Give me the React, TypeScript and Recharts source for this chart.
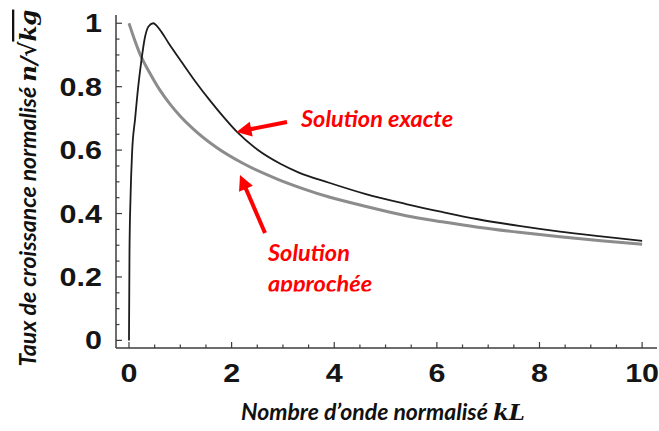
import React from 'react';
import { LineChart, Line, XAxis, YAxis } from 'recharts';

// "Solution exacte" (black curve)
const exactKL = [0, 0.01, 0.03, 0.06, 0.12, 0.18, 0.24, 0.31, 0.38, 0.47, 0.6, 0.77, 1.03, 1.3, 1.6, 1.85, 2.1, 2.5, 2.95, 3.3, 3.9, 4.6, 5.4, 6.1, 6.8, 7.6, 8.4, 9.2, 10];
const exactRate = [0, 0.28, 0.45, 0.59, 0.7, 0.8, 0.88, 0.955, 0.99, 1.0, 0.98, 0.938, 0.877, 0.815, 0.752, 0.703, 0.658, 0.602, 0.557, 0.53, 0.497, 0.462, 0.43, 0.405, 0.382, 0.361, 0.343, 0.328, 0.314];

// "Solution approchée" (grey curve)
const approxKL = [0, 0.1, 0.23, 0.4, 0.6, 0.8, 1.0, 1.25, 1.7, 2.2, 2.9, 3.4, 3.9, 4.6, 5.4, 6.1, 6.8, 7.6, 8.4, 9.2, 10];
const approxRate = [1.0, 0.952, 0.897, 0.845, 0.79, 0.745, 0.707, 0.667, 0.609, 0.56, 0.508, 0.478, 0.452, 0.423, 0.393, 0.374, 0.357, 0.341, 0.327, 0.314, 0.303];

const xTicks = [0, 0.5, 1, 1.5, 2, 2.5, 3, 3.5, 4, 4.5, 5, 5.5, 6, 6.5, 7, 7.5, 8, 8.5, 9, 9.5, 10];
const xLabels = [0, 2, 4, 6, 8, 10];
const yTicks = [0, 0.05, 0.1, 0.15, 0.2, 0.25, 0.3, 0.35, 0.4, 0.45, 0.5, 0.55, 0.6, 0.65, 0.7, 0.75, 0.8, 0.85, 0.9, 0.95, 1];
const yLabels = [0, 0.2, 0.4, 0.6, 0.8, 1];

const exactData = exactKL.map((x, i) => ({ x, y: exactRate[i] }));
const approxData = approxKL.map((x, i) => ({ x, y: approxRate[i] }));

const FRAME = '#3c3c3c';
const RED = '#ff0000';
const labelFont = '"Liberation Sans", Arial, sans-serif';
const textFont = 'Lato, "Open Sans", sans-serif';
const mathFont = '"DejaVu Serif", serif';

const isLabel = (list: number[], v: number) => list.some((l) => Math.abs(l - v) < 1e-6);

const tickText = (x: number, y: number, s: string, anchor: 'middle' | 'end') => (
  <text
    transform={`translate(${x},${y}) scale(1.22,1)`}
    textAnchor={anchor}
    fontFamily={labelFont}
    fontWeight="bold"
    fontSize={25}
    fill="#151515"
  >
    {s}
  </text>
);

function BottomTick(props: any) {
  const { x, y, payload } = props;
  const major = isLabel(xLabels, payload.value);
  return (
    <g>
      <line x1={x} y1={y} x2={x} y2={y - (major ? 6 : 3.5)} stroke={FRAME} strokeWidth={1.2} />
      {major && tickText(x, y + 34, String(payload.value), 'middle')}
    </g>
  );
}

function TopTick(props: any) {
  const { x, y, payload } = props;
  const major = isLabel(xLabels, payload.value);
  return <line x1={x} y1={y} x2={x} y2={y + (major ? 6 : 3.5)} stroke={FRAME} strokeWidth={1.2} />;
}

function LeftTick(props: any) {
  const { x, y, payload } = props;
  const major = isLabel(yLabels, payload.value);
  return (
    <g>
      <line x1={x} y1={y} x2={x + (major ? 6 : 3.5)} y2={y} stroke={FRAME} strokeWidth={1.2} />
      {major && tickText(x - 14, y + 9, String(payload.value), 'end')}
    </g>
  );
}

function RightTick(props: any) {
  const { x, y, payload } = props;
  const major = isLabel(yLabels, payload.value);
  return <line x1={x} y1={y} x2={x - (major ? 6 : 3.5)} y2={y} stroke={FRAME} strokeWidth={1.2} />;
}

function Arrow({ from, to }: { from: [number, number]; to: [number, number] }) {
  const dx = to[0] - from[0];
  const dy = to[1] - from[1];
  const len = Math.hypot(dx, dy);
  const ux = dx / len;
  const uy = dy / len;
  const head = 15;
  const half = 7.5;
  const bx = to[0] - ux * head;
  const by = to[1] - uy * head;
  const pts = [
    [to[0], to[1]],
    [bx - uy * half, by + ux * half],
    [bx + uy * half, by - ux * half],
  ]
    .map((p) => p.join(','))
    .join(' ');
  return (
    <g>
      <line x1={from[0]} y1={from[1]} x2={bx + ux * 2} y2={by + uy * 2} stroke={RED} strokeWidth={4} />
      <polygon points={pts} fill={RED} />
    </g>
  );
}

const frameLine = { stroke: FRAME, strokeWidth: 1.5 };
const redText = { fontFamily: textFont, fontStyle: 'italic', fontWeight: 'bold', fontSize: 23.5, fill: RED } as const;

export default function App() {
  return (
    <div style={{ position: 'absolute', left: 0, top: 0, width: 659, height: 431, background: '#fff' }}>
      <LineChart width={659} height={431} margin={{ top: 15, right: 2, bottom: 0, left: 0 }}>
        <XAxis
          dataKey="x"
          type="number"
          domain={[-0.253, 10.29]}
          allowDataOverflow
          ticks={xTicks}
          interval={0}
          tickSize={0}
          tickMargin={0}
          tickLine={false}
          axisLine={frameLine}
          tick={<BottomTick />}
          height={83}
        />
        <XAxis
          xAxisId="top"
          orientation="top"
          type="number"
          domain={[-0.253, 10.29]}
          allowDataOverflow
          ticks={xTicks}
          interval={0}
          tickSize={0}
          tickMargin={0}
          tickLine={false}
          axisLine={frameLine}
          tick={<TopTick />}
          height={0}
        />
        <YAxis
          type="number"
          domain={[-0.024, 1.026]}
          allowDataOverflow
          ticks={yTicks}
          interval={0}
          tickSize={0}
          tickMargin={0}
          tickLine={false}
          axisLine={frameLine}
          tick={<LeftTick />}
          width={116}
        />
        <YAxis
          yAxisId="right"
          orientation="right"
          type="number"
          domain={[-0.024, 1.026]}
          allowDataOverflow
          ticks={yTicks}
          interval={0}
          tickSize={0}
          tickMargin={0}
          tickLine={false}
          axisLine={frameLine}
          tick={<RightTick />}
          width={0}
        />
        <Line
          data={approxData}
          dataKey="y"
          type="monotone"
          stroke="#8c8c8c"
          strokeWidth={3}
          dot={false}
          activeDot={false}
          isAnimationActive={false}
        />
        <Line
          data={exactData}
          dataKey="y"
          type="monotone"
          stroke="#1c1c1c"
          strokeWidth={1.8}
          dot={false}
          activeDot={false}
          isAnimationActive={false}
        />
      </LineChart>

      <svg width={659} height={431} style={{ position: 'absolute', left: 0, top: 0, pointerEvents: 'none' }}>
        <defs>
          <clipPath id="cut">
            <rect x={0} y={0} width={659} height={291.5} />
          </clipPath>
        </defs>
        <text
          transform="translate(36,188) rotate(-90)"
          textAnchor="middle"
          fontFamily={textFont}
          fontStyle="italic"
          fontWeight="bold"
          fontSize={23}
          fill="#111"
        >
          Taux de croissance normalisé{' '}
          <tspan fontFamily={mathFont} fontWeight="bold">n/√</tspan>
          <tspan fontFamily={mathFont} fontWeight="bold" textDecoration="overline">kg</tspan>
        </text>
        <text
          x={383}
          y={420}
          textAnchor="middle"
          fontFamily={textFont}
          fontStyle="italic"
          fontWeight="bold"
          fontSize={23}
          fill="#111"
        >
          Nombre d’onde normalisé{' '}
          <tspan fontFamily={mathFont} fontWeight="bold">kL</tspan>
        </text>

        <Arrow from={[287, 122]} to={[236.5, 132]} />
        <Arrow from={[265, 233]} to={[240, 175]} />

        <text x={301} y={127} {...redText}>
          Solution exacte
        </text>
        <text x={268} y={261} {...redText}>
          Solution
        </text>
        <text x={268} y={292} clipPath="url(#cut)" {...redText}>
          approchée
        </text>
      </svg>
    </div>
  );
}
